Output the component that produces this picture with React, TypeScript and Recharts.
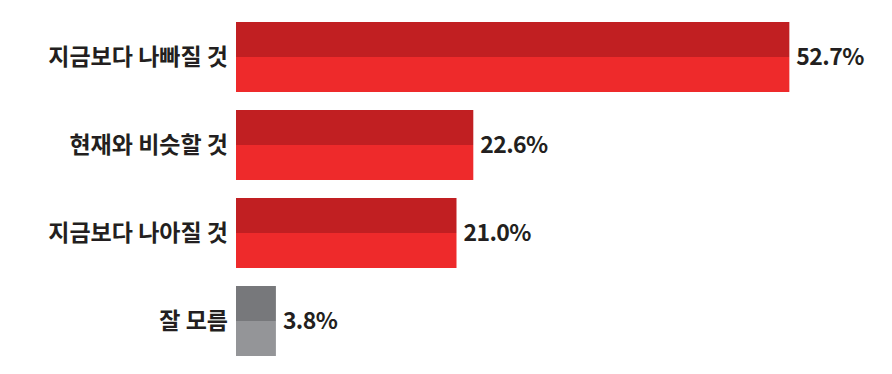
import { BarChart, Bar, XAxis, YAxis, LabelList } from "recharts";

const categories = ["지금보다 나빠질 것", "현재와 비슷할 것", "지금보다 나아질 것", "잘 모름"];
const shares = [52.7, 22.6, 21.0, 3.8];

const data = categories.map((name, i) => ({ name, value: shares[i] }));

const topColors = ["#c11f22", "#c11f22", "#c11f22", "#77787b"];
const bottomColors = ["#ee2a2b", "#ee2a2b", "#ee2a2b", "#949598"];

const FONT = "'Noto Sans CJK KR', 'Noto Sans', sans-serif";

// each bar is drawn as a dark upper half and a light lower half
const SplitBar = (props: any) => {
  const { x, y, width, height, index } = props;
  const half = height / 2;
  return (
    <g>
      <rect x={x} y={y} width={width} height={half} fill={topColors[index]} />
      <rect x={x} y={y + half} width={width} height={half} fill={bottomColors[index]} />
    </g>
  );
};

const ValueLabel = (props: any) => {
  const { x, y, width, height, value } = props;
  return (
    <text
      x={x + width + 7}
      y={y + height / 2}
      dy="0.35em"
      fill="#231f20"
      fontSize={23}
      fontWeight={700}
      fontFamily={FONT}
      letterSpacing={-0.6}
    >
      {value.toFixed(1)}%
    </text>
  );
};

export default function App() {
  return (
    <div style={{ position: "absolute", left: 0, top: 0, background: "#fff" }}>
      <BarChart
        width={892}
        height={374}
        data={data}
        layout="vertical"
        margin={{ top: 13, right: 26, bottom: 9, left: 0 }}
        barCategoryGap={0}
      >
        <XAxis type="number" domain={[0, 60]} hide />
        <YAxis
          type="category"
          dataKey="name"
          width={236}
          axisLine={false}
          tickLine={false}
          tickSize={0}
          tickMargin={8}
          tick={{ fill: "#231f20", fontSize: 23, fontWeight: 700, fontFamily: FONT }}
        />
        <Bar dataKey="value" barSize={70} shape={SplitBar} isAnimationActive={false}>
          <LabelList dataKey="value" content={ValueLabel} />
        </Bar>
      </BarChart>
    </div>
  );
}
